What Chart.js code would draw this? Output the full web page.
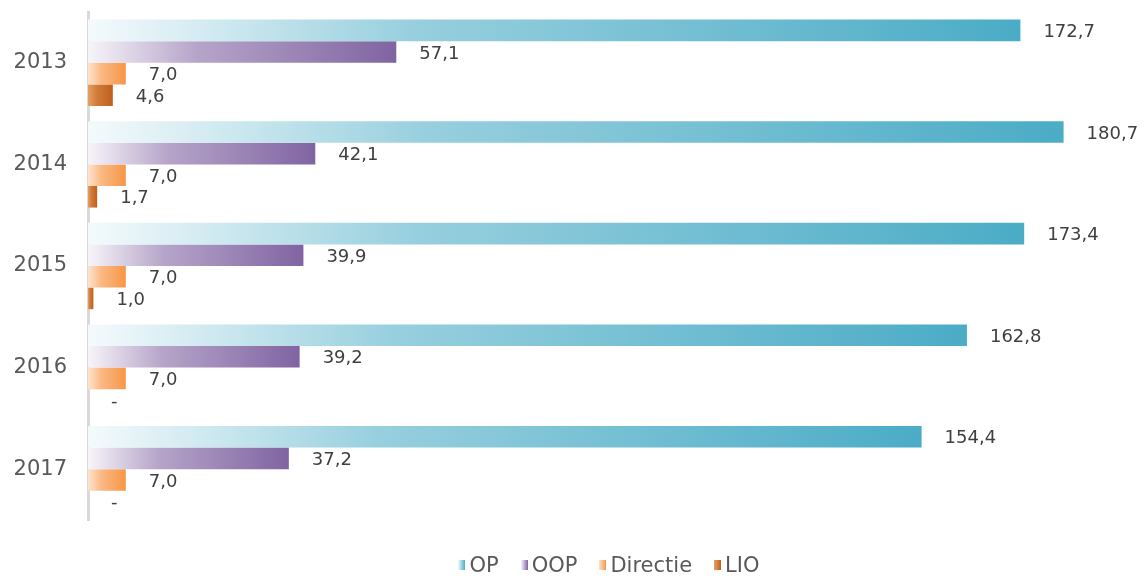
<!DOCTYPE html>
<html>
<head>
<meta charset="utf-8">
<script src="https://cdn.jsdelivr.net/npm/chart.js@4/dist/chart.umd.min.js"></script>
<style>
  html, body { margin: 0; padding: 0; background: #fff; }
  #wrap { position: relative; width: 1147px; height: 576px; }
  #legenda {
    position: absolute; left: 88px; right: 17px; top: 553px;
    display: flex; justify-content: center; align-items: center;
    font: 21px "DejaVu Sans", Verdana, sans-serif; color: #595959;
  }
  #legenda .item { display: flex; align-items: center; margin: 0 11px; }
  #legenda .blok { width: 7px; height: 10px; margin-right: 4px; }
</style>
</head>
<body>
<div id="wrap">
  <canvas id="chart"></canvas>
  <div id="legenda"></div>
</div>
<script>
// jaren en reeksen
const years    = ['2013', '2014', '2015', '2016', '2017'];
const op       = [172.7, 180.7, 173.4, 162.8, 154.4];
const oop      = [57.1, 42.1, 39.9, 39.2, 37.2];
const directie = [7.0, 7.0, 7.0, 7.0, 7.0];
const lio      = [4.6, 1.7, 1.0, null, null];   // null = "-"

// kleuren: [licht links, vol rechts]
const kleuren = {
  OP:       ['#f4fafc', '#4bacc6'],
  OOP:      ['#f7f4f9', '#8064a2'],
  Directie: ['#fde3cd', '#f79646'],
  LIO:      ['#e6a064', '#bf5f1b']
};

function verloop(naam) {
  return (ctx) => {
    const chart = ctx.chart;
    const [licht, vol] = kleuren[naam];
    if (!chart.chartArea || !chart.scales.x || ctx.type !== 'data') return vol;
    const x0 = chart.scales.x.getPixelForValue(0);
    let x1 = chart.scales.x.getPixelForValue(ctx.raw || 0);
    if (!isFinite(x1) || x1 - x0 < 2) x1 = x0 + 2;
    const g = chart.ctx.createLinearGradient(x0, 0, x1, 0);
    g.addColorStop(0, licht);
    g.addColorStop(0.35, Chart.helpers.color(vol).mix(Chart.helpers.color(licht), 0.55).hexString());
    g.addColorStop(1, vol);
    return g;
  };
}

// labels achter de balken
const waardeLabels = {
  id: 'waardeLabels',
  afterDatasetsDraw(chart) {
    const c = chart.ctx;
    c.save();
    c.font = '18px "DejaVu Sans", Verdana, sans-serif';
    c.fillStyle = '#404040';
    c.textBaseline = 'middle';
    c.textAlign = 'left';
    const x0 = chart.scales.x.getPixelForValue(0);
    chart.data.datasets.forEach((ds, i) => {
      const meta = chart.getDatasetMeta(i);
      meta.data.forEach((bar, j) => {
        const v = ds.data[j];
        const tekst = v == null ? '-' : v.toFixed(1).replace('.', ',');
        const x = v == null ? x0 : bar.x;
        c.fillText(tekst, x + 23, bar.y + 2);
      });
    });
    c.restore();
  }
};

const reeksen = [
  { label: 'OP', data: op },
  { label: 'OOP', data: oop },
  { label: 'Directie', data: directie },
  { label: 'LIO', data: lio }
];

new Chart(document.getElementById('chart'), {
  type: 'bar',
  data: {
    labels: years,
    datasets: reeksen.map(r => ({
      label: r.label,
      data: r.data,
      backgroundColor: verloop(r.label),
      borderWidth: 0,
      categoryPercentage: 0.85,
      barPercentage: 1.0
    }))
  },
  options: {
    indexAxis: 'y',
    responsive: true,
    maintainAspectRatio: false,
    animation: false,
    layout: { padding: { top: 12, right: 17, left: 6, bottom: 56 } },
    scales: {
      x: { display: false, min: 0, max: 193 },
      y: {
        grid: { display: false },
        border: { display: true, color: '#d9d9d9', width: 3 },
        ticks: {
          color: '#595959',
          padding: 13,
          font: { family: '"DejaVu Sans", Verdana, sans-serif', size: 21 }
        },
        afterFit(axis) {
          axis.width = 82;
          axis.paddingTop = 0;
          axis.paddingBottom = 0;
        }
      }
    },
    plugins: {
      tooltip: { enabled: false },
      legend: { display: false }
    }
  },
  plugins: [waardeLabels]
});

// legenda onder de grafiek
const legenda = document.getElementById('legenda');
reeksen.forEach(r => {
  const [licht, vol] = kleuren[r.label];
  const item = document.createElement('span');
  item.className = 'item';
  const blok = document.createElement('span');
  blok.className = 'blok';
  blok.style.background = `linear-gradient(to right, ${licht}, ${vol})`;
  const tekst = document.createElement('span');
  tekst.textContent = r.label;
  item.appendChild(blok);
  item.appendChild(tekst);
  legenda.appendChild(item);
});
</script>
</body>
</html>
